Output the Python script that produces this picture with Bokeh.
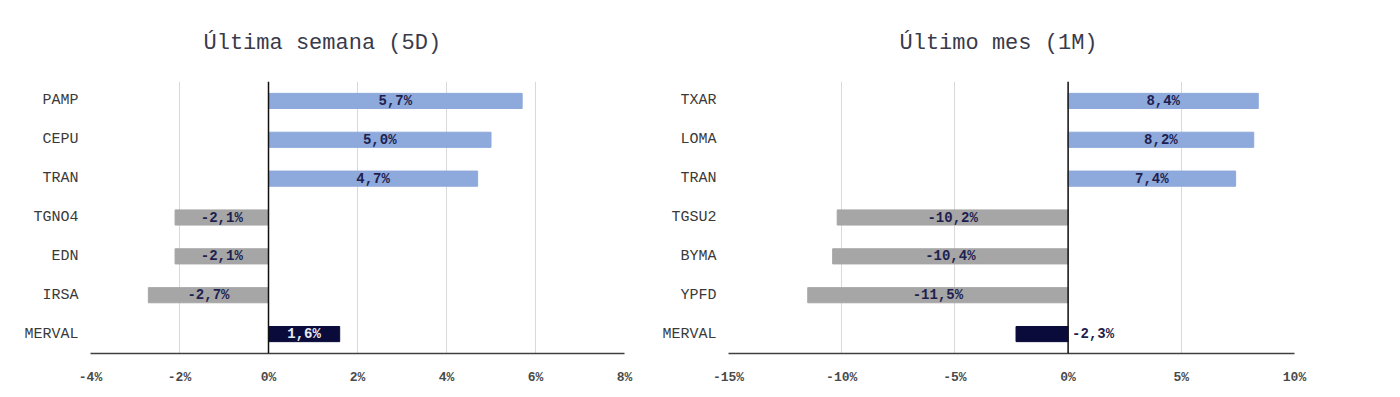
from bokeh.plotting import figure
from bokeh.layouts import row
from bokeh.models import Range1d, FixedTicker, CustomJSTickFormatter, Span, ColumnDataSource
from bokeh.core.properties import value
from bokeh.embed import file_html
from bokeh.resources import INLINE

# ---- data ----
title_week = "Última semana (5D)"
tickers_week = ["PAMP", "CEPU", "TRAN", "TGNO4", "EDN", "IRSA", "MERVAL"]
values_week = [5.7, 5.0, 4.7, -2.1, -2.1, -2.7, 1.6]
labels_week = ["5,7%", "5,0%", "4,7%", "-2,1%", "-2,1%", "-2,7%", "1,6%"]
ticks_week = [-4, -2, 0, 2, 4, 6, 8]

title_month = "Último mes (1M)"
tickers_month = ["TXAR", "LOMA", "TRAN", "TGSU2", "BYMA", "YPFD", "MERVAL"]
values_month = [8.4, 8.2, 7.4, -10.2, -10.4, -11.5, -2.3]
labels_month = ["8,4%", "8,2%", "7,4%", "-10,2%", "-10,4%", "-11,5%", "-2,3%"]
ticks_month = [-15, -10, -5, 0, 5, 10]

BENCH = "MERVAL"
BLUE = "#8EA9DB"
GRAY = "#A6A6A6"
NAVY = "#0B0B3B"
FONT = "Liberation Mono"


def make_chart(title, cats, vals, labs, ticks, width, height, mb_left, mb_right,
               mb_top, mb_bottom, title_offset, title_standoff, bench_outside):
    p = figure(y_range=list(reversed(cats)), x_range=Range1d(ticks[0], ticks[-1]),
               width=width, height=height, output_backend="svg",
               toolbar_location=None, min_border_left=mb_left,
               min_border_right=mb_right, min_border_top=mb_top,
               min_border_bottom=mb_bottom)
    colors = [NAVY if c == BENCH else (BLUE if v >= 0 else GRAY) for c, v in zip(cats, vals)]
    lab_x, lab_align, lab_color, lab_xoff = [], [], [], []
    for c, v in zip(cats, vals):
        if c == BENCH and bench_outside:
            lab_x.append(0); lab_align.append("left"); lab_color.append("#1F1F4F"); lab_xoff.append(4)
        elif c == BENCH:
            lab_x.append(v / 2); lab_align.append("center"); lab_color.append("#E8E8F0"); lab_xoff.append(0)
        else:
            lab_x.append(v / 2); lab_align.append("center"); lab_color.append("#1F1F4F"); lab_xoff.append(0)
    src = ColumnDataSource(dict(y=cats, right=vals, color=colors, lx=lab_x,
                                lab=labs, align=lab_align, lcolor=lab_color, xoff=lab_xoff))
    p.hbar(y="y", left=0, right="right", height=0.39, color="color", source=src)
    p.text(x="lx", y="y", text="lab", text_align="align", text_baseline="middle",
           text_color="lcolor", x_offset="xoff", text_font=value(FONT),
           text_font_size="14px", text_font_style="bold", source=src)
    p.add_layout(Span(location=0, dimension="height", line_color="#111111", line_width=1.5))

    p.title.text = title
    p.title.text_font = FONT
    p.title.text_font_size = "22px"
    p.title.text_font_style = "normal"
    p.title.text_color = "#3A3A4A"
    p.title.align = "left"
    p.title.vertical_align = "middle"
    p.title.offset = title_offset
    p.title.standoff = title_standoff

    p.xaxis.ticker = FixedTicker(ticks=ticks)
    p.xaxis.formatter = CustomJSTickFormatter(code="return tick + '%';")
    p.xaxis.axis_line_color = "#404040"
    p.xaxis.axis_line_width = 1.5
    p.xaxis.major_tick_line_color = None
    p.xaxis.minor_tick_line_color = None
    p.xaxis.major_label_standoff = 10
    p.xaxis.major_label_text_font = FONT
    p.xaxis.major_label_text_font_size = "13px"
    p.xaxis.major_label_text_font_style = "bold"
    p.xaxis.major_label_text_color = "#4A4A4A"

    p.yaxis.axis_line_color = None
    p.yaxis.major_tick_line_color = None
    p.yaxis.minor_tick_line_color = None
    p.yaxis.major_label_standoff = 6
    p.yaxis.major_label_text_font = FONT
    p.yaxis.major_label_text_font_size = "15px"
    p.yaxis.major_label_text_color = "#3A3A3A"

    p.xgrid.grid_line_color = "#D9D9D9"
    p.ygrid.grid_line_color = None
    p.y_range.range_padding = 0
    p.outline_line_color = None
    p.background_fill_color = "white"
    p.border_fill_color = "white"
    return p


p1 = make_chart(title_week, tickers_week, values_week, labels_week, ticks_week,
                width=648, height=387, mb_left=90, mb_right=24, mb_top=81, mb_bottom=34,
                title_offset=113, title_standoff=50, bench_outside=False)
p2 = make_chart(title_month, tickers_month, values_month, labels_month, ticks_month,
                width=736, height=387, mb_left=80, mb_right=90, mb_top=81, mb_bottom=34,
                title_offset=171, title_standoff=50, bench_outside=True)

p = row(p1, p2)
open("out.html", "w").write(file_html(p, INLINE))
